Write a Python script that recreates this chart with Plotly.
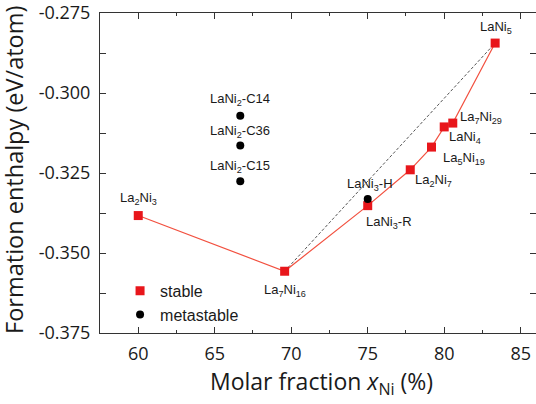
import plotly.graph_objects as go

def s(t):
    return '<sub style="font-size:11px">%s</sub>' % t

# stable phases (convex hull), sorted by Ni fraction
stable_names = ["La" + s("2") + "Ni" + s("3"), "La" + s("7") + "Ni" + s("16"), "LaNi" + s("3") + "-R",
                "La" + s("2") + "Ni" + s("7"), "La" + s("5") + "Ni" + s("19"), "LaNi" + s("4"),
                "La" + s("7") + "Ni" + s("29"), "LaNi" + s("5")]
stable_x = [60.0, 69.57, 75.0, 77.78, 79.17, 80.0, 80.56, 83.33]
stable_y = [-0.3383, -0.3557, -0.3352, -0.3240, -0.3169, -0.3106, -0.3094, -0.2844]

# metastable phases
meta_names = ["LaNi" + s("2") + "-C14", "LaNi" + s("2") + "-C36", "LaNi" + s("2") + "-C15", "LaNi" + s("3") + "-H"]
meta_x = [66.67, 66.67, 66.67, 75.0]
meta_y = [-0.3071, -0.3164, -0.3276, -0.3331]

# label offsets in pixels (dx, dy, xanchor)
stable_lbl = [(0, 17, "center"), (0, -19, "center"), (-4, -17, "left"),
              (3, -11, "left"), (9, -11, "left"), (3, -11, "left"),
              (5, 6, "left"), (1, 16, "center")]
meta_lbl = [(0, 16, "center"), (0, 14, "center"), (0, 15, "center"), (2, 14, "center")]

xticks = [60, 65, 70, 75, 80, 85]
yticks = [-0.375, -0.350, -0.325, -0.300, -0.275]

RED = "#e8161b"

fig = go.Figure()
# dashed hull line La7Ni16 -> LaNi5
fig.add_trace(go.Scatter(x=[stable_x[1], stable_x[-1]], y=[stable_y[1], stable_y[-1]],
                         mode="lines", line=dict(color="#555555", width=1, dash="3px,2px"),
                         showlegend=False, hoverinfo="skip"))
fig.add_trace(go.Scatter(x=stable_x, y=stable_y, mode="lines", line=dict(color="#f2503f", width=1.2),
                         showlegend=False, hoverinfo="skip"))
fig.add_trace(go.Scatter(x=stable_x, y=stable_y, mode="markers", name="stable",
                         marker=dict(symbol="square", size=9, color=RED)))
fig.add_trace(go.Scatter(x=meta_x, y=meta_y, mode="markers", name="metastable",
                         marker=dict(symbol="circle", size=8, color="black")))

anns = []
for n, x, y, (dx, dy, xa) in zip(stable_names + meta_names, stable_x + meta_x, stable_y + meta_y,
                                 stable_lbl + meta_lbl):
    anns.append(dict(x=x, y=y, xref="x", yref="y", text=n, showarrow=False,
                     xshift=dx, yshift=dy, xanchor=xa, yanchor="middle",
                     font=dict(family="Liberation Sans, Arial", size=13, color="#1a1a1a")))

anns.append(dict(x=0.507, y=-0.155, xref="paper", yref="paper",
                 text="Molar fraction <i>x</i><sub>Ni</sub> (%)", showarrow=False,
                 xanchor="center", yanchor="middle",
                 font=dict(family="Open Sans", size=23, color="#1a1a1a")))
anns.append(dict(x=-0.197, y=0.51, xref="paper", yref="paper",
                 text="Formation enthalpy (eV/atom)", showarrow=False, textangle=-90,
                 xanchor="center", yanchor="middle",
                 font=dict(family="Open Sans", size=23.5, color="#1a1a1a")))

axis_common = dict(showline=True, linecolor="#333333", linewidth=1, mirror="ticks",
                   ticks="inside", ticklen=6, tickcolor="#333333", tickwidth=1,
                   showgrid=False, zeroline=False,
                   tickfont=dict(family="Open Sans", size=18, color="#1a1a1a"))

fig.update_layout(
    width=536, height=404,
    margin=dict(l=100, r=0, t=13, b=71),
    paper_bgcolor="white", plot_bgcolor="white",
    xaxis=dict(range=[57.5, 86], tickvals=xticks, ticktext=[str(v) for v in xticks],
               minor=dict(ticks="inside", ticklen=3, dtick=2.5, tick0=57.5, tickcolor="#333333"),
               ticklabelstandoff=4, **axis_common),
    yaxis=dict(range=[-0.375, -0.275], tickvals=yticks, ticktext=["%.3f" % v for v in yticks],
               minor=dict(ticks="inside", ticklen=6, dtick=0.0125, tick0=-0.375, tickcolor="#333333"),
               ticklabelstandoff=5, **axis_common),
    legend=dict(x=0.046, y=0.185, xanchor="left", yanchor="top", bgcolor="rgba(0,0,0,0)",
                font=dict(family="Liberation Sans, Arial", size=16, color="#1a1a1a"),
                itemwidth=30, tracegroupgap=0),
    annotations=anns,
)
fig.write_html("out.html")
